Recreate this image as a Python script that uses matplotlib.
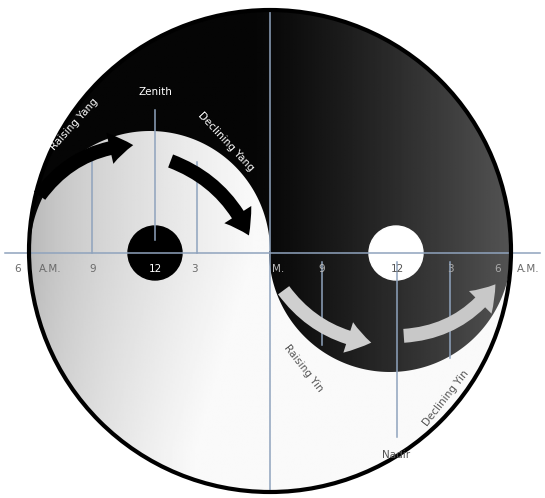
import numpy as np
import matplotlib
matplotlib.use('Agg')
import matplotlib.pyplot as plt
from matplotlib.patches import Circle, PathPatch, FancyArrowPatch
from matplotlib.path import Path

# geometry of the disc (pixel-like units, y grows downwards)
cx, cy, R = 270, 251, 241
horizon = 253
bump_l = (150, 251, 120)
bump_r = (390, 251, 121)
dot_yang = (155, 253, 27)   # black dot inside the white part
dot_yin = (396, 253, 27)    # white dot inside the black part

# hour labels along the horizon line
hour_x = [18, 50, 93, 155, 194, 278, 322, 397, 450, 498, 528]
hour_txt = ['6', 'A.M.', '9', '12', '3', 'M.', '9', '12', '3', '6', 'A.M.']
hour_col = ['#6a6a6a', '#6a6a6a', '#6a6a6a', 'white', '#6a6a6a', '#bbbbbb',
            '#bbbbbb', '#555555', '#aaaaaa', '#aaaaaa', '#6a6a6a']

# guide lines (x, y_top, y_bottom)
guides_x = [92, 155, 197, 322, 397, 450]
guides_top = [150, 110, 162, 262, 262, 262]
guides_bot = [253, 240, 253, 345, 437, 358]

# arrows (start, end, curvature, colour)
arr_start = [(38, 198), (168, 160), (282, 288), (401, 336)]
arr_end = [(136, 145), (250, 238), (374, 343), (497, 282)]
arr_rad = [-0.25, -0.22, 0.22, 0.25]
arr_col = ['black', 'black', '#cfcfcf', '#c8c8c8']

# phase names
names = ['Zenith', 'Raising Yang', 'Declining Yang', 'Raising Yin', 'Nadir', 'Declining Yin']
names_xy = [(155, 92), (74, 124), (226, 142), (303, 368), (396, 455), (446, 398)]
names_rot = [0, 48, -47, -52, 0, 52]
names_col = ['white', 'white', 'white', '#555555', '#555555', '#555555']


def arc(x0, y0, r, a0, a1, n=200):
    t = np.linspace(np.radians(a0), np.radians(a1), n)
    return np.column_stack([x0 + r * np.cos(t), y0 + r * np.sin(t)])


fig = plt.figure(figsize=(5.45, 4.98), dpi=100)
ax = fig.add_axes([0, 0, 1, 1])
ax.set_xlim(0, 545)
ax.set_ylim(498, 0)
ax.set_aspect('equal')
ax.axis('off')

# black half with gradient
xs = np.linspace(0, 545, 300)
ys = np.linspace(0, 498, 300)
X, Y = np.meshgrid(xs, ys)
dark = 0.02 + 0.32 * np.clip((X - 250) / 270, 0, 1) ** 1.2
img = ax.imshow(dark, cmap='gray', vmin=0, vmax=1, extent=(0, 545, 498, 0), zorder=1)
disc = Circle((cx, cy), R, transform=ax.transData)
img.set_clip_path(disc)

# white half: upper left bump, lower right bump removed, lower half of disc
pts = np.vstack([
    arc(bump_l[0], bump_l[1], bump_l[2], 180, 360),
    arc(bump_r[0], bump_r[1], bump_r[2], 180, 0),
    arc(cx, cy, R, 0, 180),
])
yang_path = Path(np.vstack([pts, pts[:1]]), closed=True)
light = 0.72 + 0.27 * np.clip((X - 30) / 240, 0, 1) ** 0.7
light = np.minimum(light + 0.05 * np.clip((Y - 251) / 200, 0, 1), 0.98)
img2 = ax.imshow(light, cmap='gray', vmin=0, vmax=1, extent=(0, 545, 498, 0), zorder=2)
img2.set_clip_path(PathPatch(yang_path, transform=ax.transData))

# small dots
ax.add_patch(Circle(dot_yang[:2], dot_yang[2], color='black', zorder=3))
ax.add_patch(Circle(dot_yin[:2], dot_yin[2], color='white', zorder=3))

# guide lines
lc = '#8fa3bd'
ax.plot([5, 540], [horizon, horizon], color=lc, lw=1.1, zorder=4)
ax.plot([cx, cx], [cy - R, cy + R], color=lc, lw=1.1, zorder=4)
for gx, gt, gb in zip(guides_x, guides_top, guides_bot):
    ax.plot([gx, gx], [gt, gb], color=lc, lw=1.1, zorder=4)

# outer rim
ax.add_patch(Circle((cx, cy), R, fill=False, ec='black', lw=3, zorder=5))

# arrows
for s, e, r, c in zip(arr_start, arr_end, arr_rad, arr_col):
    ax.add_patch(FancyArrowPatch(s, e, connectionstyle=f'arc3,rad={r}',
                                 arrowstyle='simple,head_width=2.3,head_length=1.7,tail_width=1.0',
                                 mutation_scale=10, color=c, lw=0, zorder=6))

# hour labels
for hx, ht, hc in zip(hour_x, hour_txt, hour_col):
    ax.text(hx, 269, ht, color=hc, fontsize=7.5, ha='center', va='center', zorder=7)

for t, (tx, ty), rot, c in zip(names, names_xy, names_rot, names_col):
    ax.text(tx, ty, t, color=c, fontsize=7.5, rotation=rot, ha='center', va='center',
            rotation_mode='anchor', zorder=7)

fig.savefig('out.png', dpi=100)
